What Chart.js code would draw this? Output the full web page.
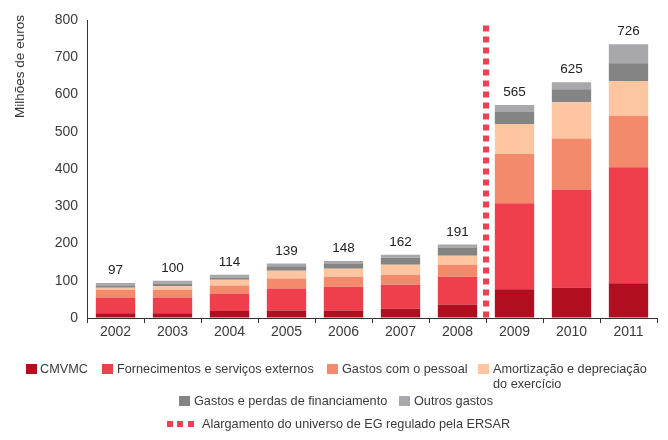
<!DOCTYPE html>
<html>
<head>
<meta charset="utf-8">
<script src="https://cdn.jsdelivr.net/npm/chart.js@4.4.0/dist/chart.umd.min.js"></script>
<style>
  html, body { margin: 0; padding: 0; background: #fff; }
  #wrap { position: relative; width: 668px; height: 440px; overflow: hidden; }
  #c { position: absolute; left: 0; top: 0; }
  .lg { position: absolute; font-family: "Liberation Sans", Arial, sans-serif; font-size: 12.7px; color: #3a3a3a; line-height: 15px; white-space: nowrap; }
  .sw { position: absolute; width: 11px; height: 10px; }
  .dd { position: absolute; width: 6px; height: 6px; background: #EF4050; }
</style>
</head>
<body>
<div id="wrap">
  <canvas id="c" width="668" height="440"></canvas>
</div>
<script>
const categories = ['2002','2003','2004','2005','2006','2007','2008','2009','2010','2011'];
const cmvmc      = [13, 13, 19, 20, 20, 25, 36, 77, 82, 93];
const fse        = [42, 42, 47, 59, 64, 64, 75, 231, 263, 312];
const pessoal    = [21, 21, 21, 27, 27, 27, 32, 132, 137, 137];
const amortizacao= [5, 10, 16, 21, 21, 27, 24, 81, 97, 94];
const financiamento = [5, 6, 5, 12, 13, 19, 22, 32, 35, 48];
const outros     = [8, 8, 8, 7, 8, 8, 8, 19, 19, 51];
const totals     = [97, 100, 114, 139, 148, 162, 191, 565, 625, 726];
const seriesNames = ['CMVMC','Fornecimentos e serviços externos','Gastos com o pessoal','Amortização e depreciação do exercício','Gastos e perdas de financiamento','Outros gastos'];
const colors = ['#B10E20','#EF3F4C','#F38A6C','#FDC5A0','#848484','#A8A8AC'];
const yTicks = [0,100,200,300,400,500,600,700,800];
const markerAfterIndex = 6; // boundary between 2008 and 2009
const markerTopValue = 785;
const yTitle = 'Milhões de euros';
const markerLabel = 'Alargamento do universo de EG regulado pela ERSAR';

const FONT = '"Liberation Sans", Arial, sans-serif';
const allSeries = [cmvmc, fse, pessoal, amortizacao, financiamento, outros];

const overlay = {
  id: 'overlay',
  afterDatasetsDraw(chart) {
    const ctx = chart.ctx;
    const x = chart.scales.x, y = chart.scales.y;
    // totals labels
    ctx.save();
    ctx.font = '13.5px ' + FONT;
    ctx.fillStyle = '#222';
    ctx.textAlign = 'center';
    ctx.textBaseline = 'middle';
    categories.forEach((c, i) => {
      let s = 0; allSeries.forEach(a => s += a[i]);
      ctx.fillText(String(totals[i]), x.getPixelForValue(i), y.getPixelForValue(s) - 12.5);
    });
    // dashed marker
    const xm = (x.getPixelForValue(markerAfterIndex) + x.getPixelForValue(markerAfterIndex + 1)) / 2;
    ctx.strokeStyle = '#EF4050';
    ctx.lineWidth = 6;
    ctx.setLineDash([6, 5]);
    ctx.beginPath();
    ctx.moveTo(xm, y.getPixelForValue(markerTopValue));
    ctx.lineTo(xm, y.getPixelForValue(0));
    ctx.stroke();
    ctx.setLineDash([]);
    // y title
    ctx.font = '13.5px ' + FONT;
    ctx.fillStyle = '#333';
    ctx.translate(20, 66.5);
    ctx.rotate(-Math.PI / 2);
    ctx.textAlign = 'center';
    ctx.fillText(yTitle, 0, 0);
    ctx.restore();
  }
};

new Chart(document.getElementById('c'), {
  type: 'bar',
  data: {
    labels: categories,
    datasets: allSeries.map((d, i) => ({
      label: seriesNames[i],
      data: d,
      backgroundColor: colors[i],
      borderWidth: 0,
      barPercentage: 0.69,
      categoryPercentage: 1
    }))
  },
  options: {
    responsive: false,
    animation: false,
    devicePixelRatio: 1,
    layout: { padding: { top: 20, right: 11, bottom: 0, left: 0 } },
    plugins: { legend: { display: false }, tooltip: { enabled: false } },
    scales: {
      x: {
        stacked: true,
        afterFit(s) { s.height = 122; },
        grid: { offset: true, drawOnChartArea: false, drawTicks: true, tickLength: 5, color: '#333', tickColor: '#333' },
        border: { color: '#333', width: 1 },
        ticks: { color: '#3a3a3a', font: { family: FONT, size: 14 }, padding: 1 }
      },
      y: {
        stacked: true,
        min: 0, max: 800,
        afterFit(s) { s.width = 87; },
        afterBuildTicks(s) { s.ticks = yTicks.map(v => ({ value: v })); },
        grid: { display: true, drawOnChartArea: false, drawTicks: false },
        border: { color: '#333', width: 1 },
        ticks: { color: '#3a3a3a', font: { family: FONT, size: 14 }, padding: 9 }
      }
    }
  },
  plugins: [overlay]
});

// HTML legend built from series names / colors
const wrap = document.getElementById('wrap');
function sw(x, y, col) { const d = document.createElement('div'); d.className = 'sw'; d.style.left = x + 'px'; d.style.top = y + 'px'; d.style.background = col; wrap.appendChild(d); }
function tx(x, yc, html) { const d = document.createElement('div'); d.className = 'lg'; d.style.left = x + 'px'; d.style.top = (yc - 7.5) + 'px'; d.innerHTML = html; wrap.appendChild(d); }
const legendPos = [
  [26, 364, 40, 369], [102, 364, 117, 369], [327, 364, 342, 369], [478, 364, 493, 369],
  [179, 396, 194, 401], [399, 396, 414, 401]
];
seriesNames.forEach((n, i) => {
  const p = legendPos[i];
  sw(p[0], p[1], colors[i]);
  let t = n;
  if (i === 3) t = 'Amortização e depreciação<br>do exercício';
  tx(p[2], p[3], t);
});
[167, 177, 188].forEach(x => { const d = document.createElement('div'); d.className = 'dd'; d.style.left = x + 'px'; d.style.top = '421px'; wrap.appendChild(d); });
tx(202, 424, markerLabel);
</script>
</body>
</html>
